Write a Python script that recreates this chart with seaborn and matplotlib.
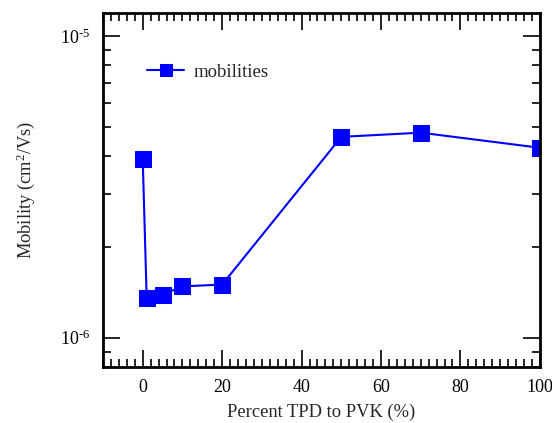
import math
import matplotlib
matplotlib.use("Agg")
import matplotlib.pyplot as plt
import matplotlib.ticker as mticker
import seaborn as sns
import pandas as pd

percent_tpd = [0, 1, 5, 10, 20, 50, 70, 100]
mobility = [3.92e-6, 1.35e-6, 1.39e-6, 1.48e-6, 1.50e-6, 4.63e-6, 4.78e-6, 4.26e-6]
series_name = "mobilities"

sns.set_style("ticks")
plt.rcParams['font.family'] = ['Liberation Serif', 'DejaVu Serif']
plt.rcParams['mathtext.fontset'] = 'custom'
plt.rcParams['mathtext.rm'] = 'Liberation Serif'
plt.rcParams['mathtext.it'] = 'Liberation Serif:italic'

df = pd.DataFrame({"x": percent_tpd, "y": mobility, "series": series_name})

fig = plt.figure(figsize=(5.52, 4.23), dpi=100)
ax = fig.add_axes([0.1866, 0.1324, 0.978 - 0.1866, 0.969 - 0.1324])

sns.lineplot(data=df, x="x", y="y", hue="series", palette=["#0000ff"], marker="s",
             markersize=11, markeredgecolor="#0000ff", linewidth=1.5, ax=ax)

ax.set_yscale("log")
ax.set_xlim(-10, 100)
ax.set_ylim(8.0e-7, 1.19e-5)

ax.xaxis.set_major_locator(mticker.MultipleLocator(20))
ax.xaxis.set_minor_locator(mticker.MultipleLocator(2))
ax.yaxis.set_major_locator(mticker.LogLocator(base=10))
ax.yaxis.set_minor_locator(mticker.LogLocator(base=10, subs=range(2, 10)))
ax.yaxis.set_minor_formatter(mticker.NullFormatter())
ax.yaxis.set_major_formatter(mticker.FuncFormatter(
    lambda v, p: r"$10^{\text{-}%d}$" % abs(round(math.log10(v)))))

ax.tick_params(which="both", direction="in", top=True, right=True, width=1.2, colors="black", labelsize=13)
ax.tick_params(which="major", length=12, pad=9)
ax.tick_params(which="minor", length=6)
for s in ax.spines.values():
    s.set_linewidth(2)
    s.set_color("black")

ax.set_xlabel("Percent TPD to PVK (%)", fontsize=13.3, labelpad=5)
ax.set_ylabel(r"Mobility (cm$^2$/Vs)", fontsize=13.3, labelpad=17)

leg = ax.legend(loc="upper left", bbox_to_anchor=(0.062, 0.905), frameon=False, fontsize=13.5,
                handlelength=2.0, handletextpad=0.5, markerscale=0.85)

fig.savefig("out.png", dpi=100)
